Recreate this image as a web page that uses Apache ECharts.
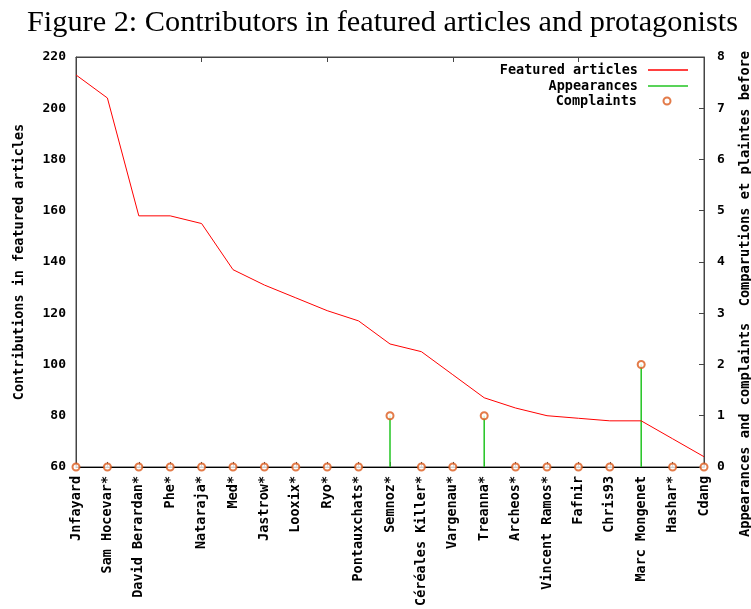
<!DOCTYPE html>
<html>
<head>
<meta charset="utf-8">
<script src="https://cdn.jsdelivr.net/npm/echarts@6/dist/echarts.min.js"></script>
<style>
  html, body { margin: 0; padding: 0; background: #fff; }
  #chart { width: 751px; height: 609px; }
</style>
</head>
<body>
<div id="chart"></div>
<script>
// contributors, in the order of the x axis
const contributors = ["Jnfayard", "Sam Hocevar*", "David Berardan*", "Phe*", "Nataraja*", "Med*",
  "Jastrow*", "Looxix*", "Ryo*", "Pontauxchats*", "Semnoz*", "Céréales Killer*", "Vargenau*",
  "Treanna*", "Archeos*", "Vincent Ramos*", "Fafnir", "Chris93", "Marc Mongenet", "Hashar*", "Cdang"];
// contributions in featured articles (left axis)
const featured = [213, 204, 158, 158, 155, 137, 131, 126, 121, 117, 108, 105, 96, 87, 83, 80, 79, 78, 78, 71, 64];
// appearances and complaints (right axis)
const appearances = [0, 0, 0, 0, 0, 0, 0, 0, 0, 0, 1, 0, 0, 1, 0, 0, 0, 0, 2, 0, 0];
const complaints = [0, 0, 0, 0, 0, 0, 0, 0, 0, 0, 1, 0, 0, 1, 0, 0, 0, 0, 2, 0, 0];
const leftTicks = [60, 220, 20];
const rightTicks = [0, 8, 1];

const mono = "DejaVu Sans Mono";
const txt = { fontFamily: mono, fontWeight: "bold", fontSize: 13.5, color: "#000" };
const RED = "#ff0000", GREEN = "#22c422", ORANGE = "#dc5a1c";

let chart = echarts.init(document.getElementById("chart"));

chart.setOption({
  animation: false,
  title: {
    text: "Figure 2: Contributors in featured articles and protagonists",
    left: 22,
    top: 3,
    textStyle: { fontFamily: "Liberation Serif", fontWeight: "normal", fontSize: 30.3, color: "#000" }
  },
  legend: [
    { data: ["Featured articles"], right: 58, top: 58, align: "right", icon: "rect",
      itemWidth: 40, itemHeight: 1.5, textStyle: Object.assign({ padding: [0, 5, 0, 0] }, txt),
      selectedMode: false },
    { data: ["Appearances"], right: 58, top: 74, align: "right", icon: "rect",
      itemWidth: 40, itemHeight: 1.5, textStyle: Object.assign({ padding: [0, 5, 0, 0] }, txt),
      selectedMode: false },
    { data: ["Complaints"], right: 74.5, top: 89, align: "right", icon: "emptyCircle",
      itemWidth: 7, itemHeight: 7, textStyle: Object.assign({ padding: [0, 21.5, 0, 0] }, txt),
      selectedMode: false, itemStyle: { borderWidth: 1.5 } }
  ],
  grid: { left: 76, right: 47, top: 57, bottom: 142, show: true, borderColor: "#444", borderWidth: 1 },
  xAxis: [
    {
      type: "category",
      data: contributors,
      boundaryGap: false,
      axisLine: { lineStyle: { color: "#000", width: 1 } },
      axisTick: { inside: true, length: 5, lineStyle: { color: "#444" } },
      axisLabel: Object.assign({ rotate: 90, margin: 9, interval: 0 }, txt),
      splitLine: { show: false }
    },
    {
      type: "category",
      data: contributors,
      position: "top",
      boundaryGap: false,
      axisLine: { lineStyle: { color: "#444" } },
      axisTick: { inside: true, length: 5, lineStyle: { color: "#444" } },
      axisLabel: { show: false }
    }
  ],
  yAxis: [
    {
      type: "value",
      min: leftTicks[0], max: leftTicks[1], interval: leftTicks[2],
      name: "Contributions in featured articles",
      nameLocation: "middle",
      nameGap: 50,
      nameTextStyle: txt,
      axisLine: { show: true, lineStyle: { color: "#444" } },
      axisTick: { show: false },
      axisLabel: Object.assign({ margin: 10 }, txt, { fontSize: 13 }),
      splitLine: { show: false }
    },
    {
      type: "value",
      min: rightTicks[0], max: rightTicks[1], interval: rightTicks[2],
      position: "right",
      axisLine: { show: true, lineStyle: { color: "#444" } },
      axisTick: { show: true, inside: true, length: 5, lineStyle: { color: "#444" } },
      axisLabel: Object.assign({ margin: 13 }, txt, { fontSize: 13 }),
      splitLine: { show: false }
    }
  ],
  graphic: [
    {
      type: "text",
      x: 745, y: 294,
      rotation: Math.PI / 2,
      style: {
        text: "Appearances and complaints  Comparutions et plaintes before",
        font: "bold 13.7px " + mono,
        fill: "#000",
        align: "center",
        verticalAlign: "middle"
      }
    }
  ],
  series: [
    {
      name: "Featured articles",
      type: "line",
      data: featured,
      symbol: "none",
      lineStyle: { color: RED, width: 1 },
      itemStyle: { color: RED },
      z: 3
    },
    {
      name: "Appearances",
      type: "bar",
      yAxisIndex: 1,
      data: appearances,
      barWidth: 1.5,
      itemStyle: { color: GREEN },
      z: 2
    },
    {
      name: "Complaints",
      type: "scatter",
      yAxisIndex: 1,
      data: complaints,
      symbol: "emptyCircle",
      symbolSize: 7,
      clip: false,
      itemStyle: { color: ORANGE, borderColor: ORANGE, borderWidth: 1.5 },
      z: 4
    }
  ]
});
</script>
</body>
</html>
